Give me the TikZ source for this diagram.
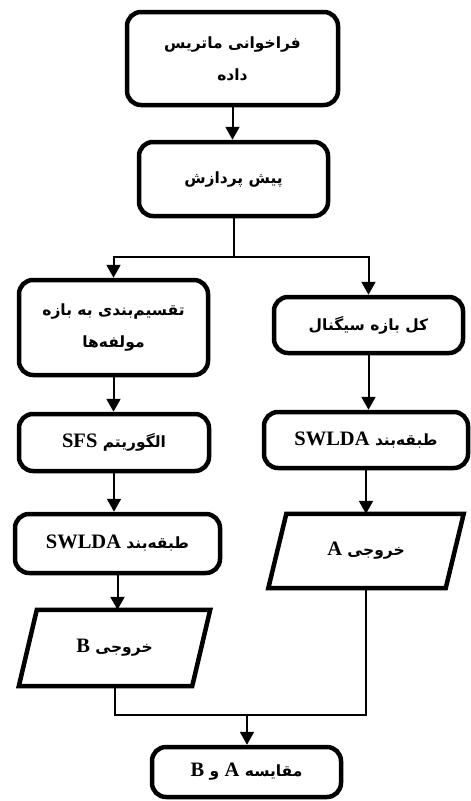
\documentclass[tikz,border=0pt]{standalone}
\usepackage{fontspec}
\setmainfont{Liberation Serif}
\newfontfamily\fafont[Script=Arabic]{DejaVu Sans}
\usetikzlibrary{arrows.meta,calc}
\TeXXeTstate=1
\newcommand\latw[1]{\beginL{\rmfamily\fontsize{20.5}{24}\selectfont\bfseries #1}\endL}
\newcommand\fatx[1]{\beginR{\fafont\bfseries #1}\endR}
\begin{document}
\begin{tikzpicture}[x=1pt,y=-1pt,
  box/.style={draw, line width=4.5pt, rounded corners=14pt, align=center, inner sep=0pt,
    font=\fontsize{15.5}{32}\selectfont},
  pg/.style={inner sep=0pt, align=center, font=\fontsize{15.5}{32}\selectfont},
  pgline/.style={line width=4.5pt, line join=miter},
  conn/.style={line width=2pt},
  arr/.style={line width=2pt, -{Triangle[width=14pt,length=13pt]}}]
\useasboundingbox (0,0) rectangle (471,801);

\node[box, minimum width=211pt, minimum height=93pt] (load) at (232.5,58.5)
  {\fatx{فراخوانی ماتریس}\\\fatx{داده}};
\node[box, minimum width=189pt, minimum height=74pt] (pre) at (233.5,179)
  {\fatx{پیش پردازش}};
\node[box, minimum width=189pt, minimum height=95pt] (split) at (113.5,327.5)
  {\fatx{تقسیم‌بندی به بازه}\\\fatx{مولفه‌ها}};
\node[box, minimum width=189pt, minimum height=56pt] (signal) at (368.5,325)
  {\fatx{کل بازه سیگنال}};
\node[box, minimum width=190pt, minimum height=57pt] (sfs) at (114,442.5)
  {\fatx{الگوریتم \latw{SFS}}};
\node[box, minimum width=204pt, minimum height=56pt] (swR) at (366,440)
  {\fatx{طبقه‌بند \latw{SWLDA}}};
\node[box, minimum width=205pt, minimum height=59pt] (swL) at (117.5,543.5)
  {\fatx{طبقه‌بند \latw{SWLDA}}};
\node[pg, minimum width=177pt, minimum height=74pt] (outA) at (366,551)
  {\fatx{خروجی \latw{A}}};
\node[pg, minimum width=173pt, minimum height=76pt] (outB) at (114.5,648)
  {\fatx{خروجی \latw{B}}};
\node[box, minimum width=189pt, minimum height=50pt] (cmp) at (246.5,772)
  {\fatx{مقایسه \latw{A} و \latw{B}}};

% parallelograms
\draw[pgline] ($(outA.south west)+(-9,0)$) -- ($(outA.south east)+(-9,0)$)
  -- ($(outA.north east)+(9,0)$) -- ($(outA.north west)+(9,0)$) -- cycle;
\draw[pgline] ($(outB.south west)+(-9,0)$) -- ($(outB.south east)+(-9,0)$)
  -- ($(outB.north east)+(9,0)$) -- ($(outB.north west)+(9,0)$) -- cycle;

% connectors
\coordinate (fork) at (233.5,257);
\coordinate (join) at (247,715);
\draw[arr] (load.south) -- (load.south |- pre.north);
\draw[conn] (pre.south) -- (fork);
\draw[arr] (fork) -| (split.north);
\draw[arr] (fork) -| (signal.north);
\draw[arr] (split.south) -- (split.south |- sfs.north);
\draw[arr] (sfs.south) -- (sfs.south |- swL.north);
\draw[arr] (swL.south) -- (swL.south |- outB.north);
\draw[arr] (signal.south) -- (signal.south |- swR.north);
\draw[arr] (swR.south) -- (swR.south |- outA.north);
\draw[conn] (outB.south) |- (join);
\draw[conn] (outA.south) |- (join);
\draw[arr] (join) -- (join |- cmp.north);
\end{tikzpicture}
\end{document}
